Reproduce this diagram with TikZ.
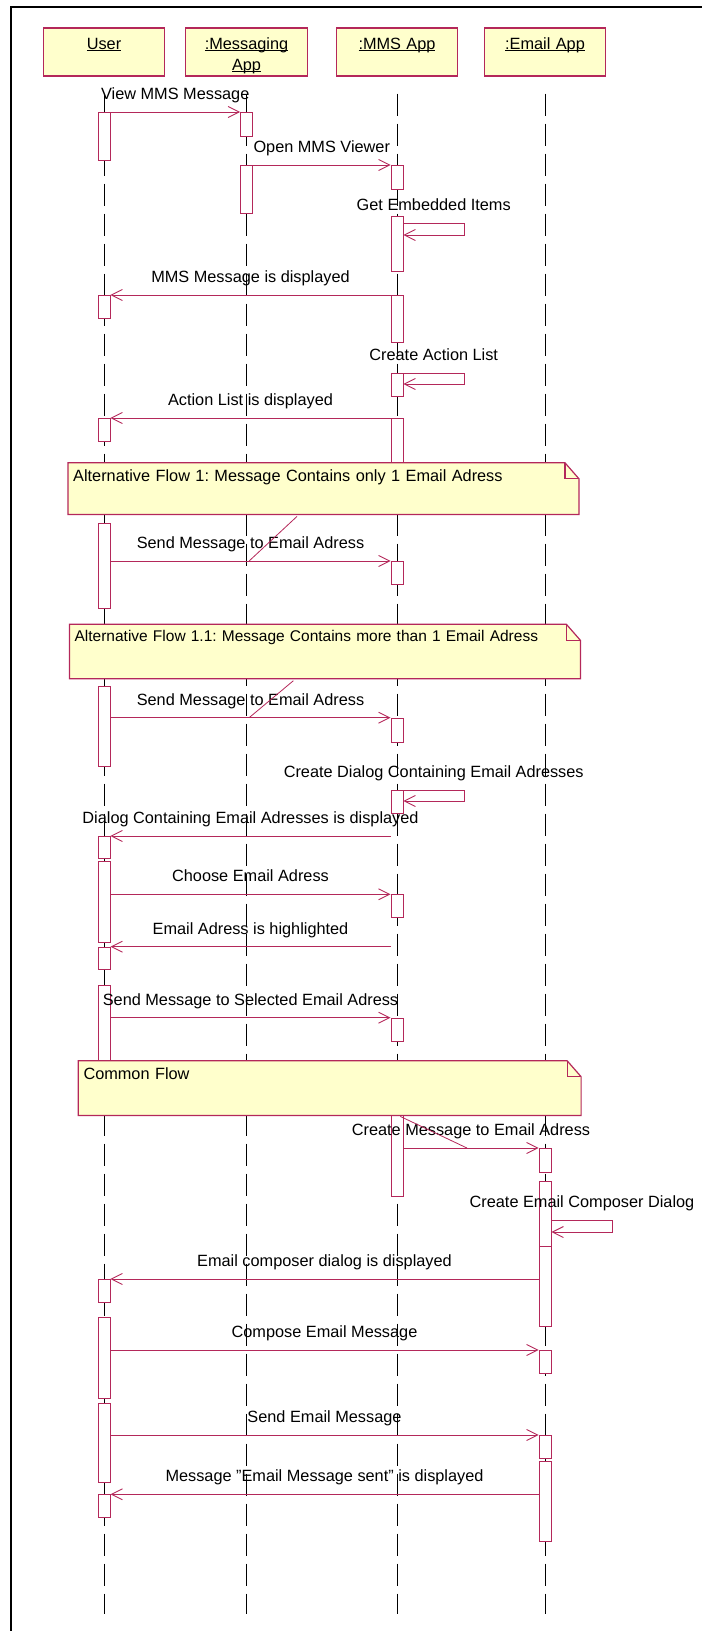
\documentclass[tikz,border=0pt]{standalone}
\usepackage{fontspec}
\setmainfont{Liberation Sans}
\usetikzlibrary{positioning,arrows.meta,calc}

\definecolor{umlred}{RGB}{180,40,90}
\definecolor{umlfill}{RGB}{255,255,204}

% underlined object name with a fixed underline depth
\newcommand{\lifename}[1]{\leavevmode\setbox0=\hbox{#1}\rlap{\rule[-2pt]{\wd0}{1pt}}\box0}

\frenchspacing
\begin{document}
\begin{tikzpicture}[
  x=1pt, y=-1pt,
  >={Straight Barb[length=11pt,width=11pt]},
  font=\fontsize{16.3pt}{21pt}\selectfont,
  lifehead/.style={draw=umlred,line width=1.2pt,fill=umlfill,text width=111.5pt,
                   align=center,inner xsep=5pt,inner ysep=0pt,
                   text height=21.3pt,text depth=26.7pt},
  act/.style={draw=umlred,line width=0.9pt,fill=white,minimum width=12pt,
              inner sep=0pt,anchor=north},
  lifeline/.style={line width=0.9pt,dash pattern=on 22pt off 8pt},
  msg/.style={umlred,line width=0.9pt},
  msglabel/.style={midway,anchor=base,yshift=12.5pt,text=black},
  flownote/.style={fill=umlfill,text width=#1,align=left,inner xsep=5pt,
                   inner ysep=0pt,anchor=north west},
  noteline/.style={draw=umlred,line width=1.2pt},
  noteanchor/.style={umlred,line width=0.8pt}]

\useasboundingbox (0,0) rectangle (702,1631);
\draw[line width=2pt] (11,1631) -- (11,7) -- (702,7);

% ============ Objects and lifelines ============
\node[lifehead] (hU) at (104,52)   {\lifename{User}};
\node[lifehead] (hM) at (246.5,52) {\lifename{:Messaging}\\\lifename{App}};
\node[lifehead] (hA) at (397,52)   {\lifename{:MMS App}};
\node[lifehead] (hE) at (545,52)   {\lifename{:Email App}};
\draw[lifeline] ($(hU.south)+(0,17)$) -- ($(hU.south)+(0,1537)$);
\draw[lifeline] ($(hM.south)+(0,17)$) -- ($(hM.south)+(0,1537)$);
\draw[lifeline] ($(hA.south)+(0,17)$) -- ($(hA.south)+(0,1537)$);
\draw[lifeline] ($(hE.south)+(0,17)$) -- ($(hE.south)+(0,1537)$);

% ============ Activations ============
% User
\node[act,minimum height=48pt]   (u1)  at (104,112)    {};
\node[act,minimum height=23pt]   (u2)  at (104,295)    {};
\node[act,minimum height=23pt]   (u3)  at (104,418)    {};
\node[act,minimum height=85.3pt] (u4)  at (104,522.7)  {};
\node[act,minimum height=80pt]   (u5)  at (104,686)    {};
\node[act,minimum height=22.3pt] (u6)  at (104,836)    {};
\node[act,minimum height=80.7pt] (u7)  at (104,861)    {};
\node[act,minimum height=22.6pt] (u8)  at (104,946.7)  {};
\node[act,minimum height=80pt]   (u9)  at (104,985)    {};
\node[act,minimum height=22.7pt] (u10) at (104,1279)   {};
\node[act,minimum height=81pt]   (u11) at (104,1317.3) {};
\node[act,minimum height=79.6pt] (u12) at (104,1402.7) {};
\node[act,minimum height=23pt]   (u13) at (104,1494.3) {};
% Messaging App
\node[act,minimum height=24pt]   (m1)  at (246.5,112)  {};
\node[act,minimum height=48pt]   (m2)  at (246.5,165)  {};
% MMS App
\node[act,minimum height=24pt]   (a1)  at (397,165)    {};
\node[act,minimum height=55pt]   (a2)  at (397,216)    {};
\node[act,minimum height=47pt]   (a3)  at (397,295)    {};
\node[act,minimum height=23pt]   (a4)  at (397,372.7)  {};
\node[act,minimum height=55pt]   (a5)  at (397,418)    {};
\node[act,minimum height=23pt]   (a6)  at (397,561)    {};
\node[act,minimum height=24pt]   (a7)  at (397,717.7)  {};
\node[act,minimum height=22.7pt] (a8)  at (397,790)    {};
\node[act,minimum height=23pt]   (a9)  at (397,894.3)  {};
\node[act,minimum height=23.3pt] (a10) at (397,1017.7) {};
\node[act,minimum height=80.7pt] (a11) at (397,1115.3) {};
% Email App
\node[act,minimum height=24.3pt] (e1)  at (545,1148)   {};
\node[act,minimum height=65pt]   (e2)  at (545,1181)   {};
\node[act,minimum height=80pt]   (e3)  at (545,1246)   {};
\node[act,minimum height=23.3pt] (e4)  at (545,1350)   {};
\node[act,minimum height=23.3pt] (e5)  at (545,1435)   {};
\node[act,minimum height=80pt]   (e6)  at (545,1461)   {};

% ============ Messages: start ============
\draw[msg,->] (u1.north east) -- node[msglabel]{View MMS Message} (m1.north west);
\draw[msg,->] (m2.north east) -- node[msglabel]{Open MMS Viewer} (a1.north west);
% self call: Get Embedded Items
\coordinate (s1)  at (464,223);
\coordinate (s1b) at (464,235);
\draw[msg,->] (a2.east |- s1) -- node[msglabel]{Get Embedded Items} (s1) -- (s1b) -- (a2.east |- s1b);
\draw[msg,->] (a3.north west) -- node[msglabel]{MMS Message is displayed} (u2.north east);
% self call: Create Action List
\coordinate (s2)  at (464,373);
\coordinate (s2b) at (464,384);
\draw[msg,->] (a4.east |- s2) -- node[msglabel]{Create Action List} (s2) -- (s2b) -- (a4.east |- s2b);
\draw[msg,->] (a5.north west) -- node[msglabel]{Action List is displayed} (u3.north east);

% ============ Alternative flow 1 ============
\draw[msg,->] (u4.east |- a6.north) -- node[msglabel]{Send Message to Email Adress}
  coordinate[pos=0.495] (k1) (a6.north west);

% ============ Alternative flow 1.1 ============
\draw[msg,->] (u5.east |- a7.north) -- node[msglabel]{Send Message to Email Adress}
  coordinate[pos=0.495] (k2) (a7.north west);
% self call: Create Dialog
\coordinate (s3)  at (464,790);
\coordinate (s3b) at (464,801);
\draw[msg,->] (a8.east |- s3) -- node[msglabel]{Create Dialog Containing Email Adresses} (s3) -- (s3b) -- (a8.east |- s3b);
\draw[msg,->] (a8.west |- u6.north) -- node[msglabel]{Dialog Containing Email Adresses is displayed} (u6.north east);
\draw[msg,->] (u7.east |- a9.north) -- node[msglabel]{Choose Email Adress} (a9.north west);
\draw[msg,->] (a9.west |- u8.north) -- node[msglabel]{Email Adress is highlighted} (u8.north east);
\draw[msg,->] (u9.east |- a10.north) -- node[msglabel]{Send Message to Selected Email Adress} (a10.north west);

% ============ Common flow ============
\draw[msg,->] (a11.east |- e1.north) -- node[msglabel]{Create Message to Email Adress}
  coordinate[pos=0.47] (k3) (e1.north west);
% self call: Create Email Composer Dialog
\coordinate (s4)  at (612.5,1220);
\coordinate (s4b) at (612.5,1232);
\draw[msg,->] (e2.east |- s4) -- node[msglabel]{Create Email Composer Dialog} (s4) -- (s4b) -- (e2.east |- s4b);
\draw[msg,->] (e3.west |- u10.north) -- node[msglabel]{Email composer dialog is displayed} (u10.north east);
\draw[msg,->] (u11.east |- e4.north) -- node[msglabel]{Compose Email Message} (e4.north west);
\draw[msg,->] (u12.east |- e5.north) -- node[msglabel]{Send Email Message} (e5.north west);
\draw[msg,->] (e6.west |- u13.north) -- node[msglabel]{Message "Email Message sent" is displayed} (u13.north east);

% ============ Notes ============
\node[flownote=500.5pt,text height=19pt,text depth=32.3pt] (n1) at (68,462.7)
  {Alternative Flow 1: Message Contains only 1 Email Adress};
\fill[white] ($(n1.north east)+(-14,0)$) -- (n1.north east) -- ($(n1.north east)+(0,16)$) -- cycle;
\draw[noteline] (n1.north west) -- ($(n1.north east)+(-14,0)$) -- ($(n1.north east)+(0,16)$) |- (n1.south west) -- cycle;
\draw[noteline] ($(n1.north east)+(-14,0)$) |- ($(n1.north east)+(0,16)$);
\draw[noteanchor] ($(n1.south west)+(229,2)$) -- (k1);

\node[flownote=500.6pt,text height=17.4pt,text depth=36.6pt,
      font=\fontsize{15.5pt}{21pt}\selectfont] (n2) at (69.4,624.3)
  {Alternative Flow 1.1: Message Contains more than 1 Email Adress};
\fill[white] ($(n2.north east)+(-14,0)$) -- (n2.north east) -- ($(n2.north east)+(0,16)$) -- cycle;
\draw[noteline] (n2.north west) -- ($(n2.north east)+(-14,0)$) -- ($(n2.north east)+(0,16)$) |- (n2.south west) -- cycle;
\draw[noteline] ($(n2.north east)+(-14,0)$) |- ($(n2.north east)+(0,16)$);
\draw[noteanchor] ($(n2.south west)+(224,2)$) -- (k2);

\node[flownote=492.4pt,text height=18.3pt,text depth=36pt] (n3) at (78.3,1060.7)
  {Common Flow};
\fill[white] ($(n3.north east)+(-14,0)$) -- (n3.north east) -- ($(n3.north east)+(0,16)$) -- cycle;
\draw[noteline] (n3.north west) -- ($(n3.north east)+(-14,0)$) -- ($(n3.north east)+(0,16)$) |- (n3.south west) -- cycle;
\draw[noteline] ($(n3.north east)+(-14,0)$) |- ($(n3.north east)+(0,16)$);
\draw[noteanchor] ($(n3.south west)+(322,1)$) -- (k3);

\end{tikzpicture}
\end{document}
